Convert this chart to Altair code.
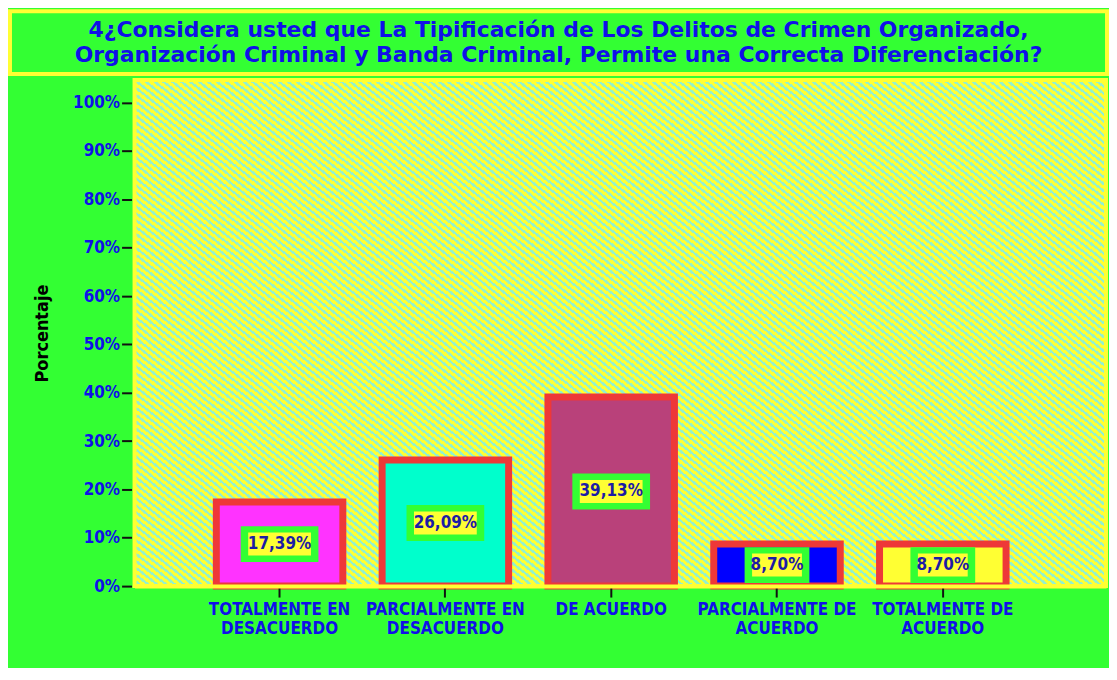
import altair as alt
import pandas as pd

# ---------------- data ----------------
categories = [
    "TOTALMENTE EN DESACUERDO",
    "PARCIALMENTE EN DESACUERDO",
    "DE ACUERDO",
    "PARCIALMENTE DE ACUERDO",
    "TOTALMENTE DE ACUERDO",
]
percentages = [17.39, 26.09, 39.13, 8.70, 8.70]
y_tick_values = [0, 10, 20, 30, 40, 50, 60, 70, 80, 90, 100]
title_lines = [
    "4¿Considera usted que La Tipificación de Los Delitos de Crimen Organizado,",
    "Organización Criminal y Banda Criminal, Permite una Correcta Diferenciación?",
]
y_title = "Porcentaje"

# ---------------- style ----------------
GREEN = "#33ff33"
YELLOW = "#ffff33"
AQUA = "#96f2c8"
RED = "#ee3838"
BLUE = "#1010e8"
NAVY = "#1c1ca6"
bar_colors = ["#ff33ff", "#00ffcc", "#b9417a", "#0000ff", "#ffff33"]
COND = "DejaVu Sans Condensed"

# diagonal hatch for the plot background, as a striped linear gradient
N_STRIPES = 182
stops = []
for k in range(N_STRIPES):
    a = round(k / N_STRIPES, 6)
    m = round((k + 0.55) / N_STRIPES, 6)
    b = round((k + 1) / N_STRIPES, 6)
    stops += [
        alt.GradientStop(offset=a, color=YELLOW),
        alt.GradientStop(offset=m, color=YELLOW),
        alt.GradientStop(offset=m, color=AQUA),
        alt.GradientStop(offset=b, color=AQUA),
    ]
hatch = alt.LinearGradient(gradient="linear", stops=stops, x1=0, y1=1, x2=1.154, y2=0.231)

df = pd.DataFrame({"cat": categories, "pct": percentages})

x_axis = alt.Axis(
    labelExpr="length(datum.label) > 12 ? [slice(datum.label, 0, lastindexof(datum.label, ' ')), slice(datum.label, lastindexof(datum.label, ' ') + 1)] : datum.label",
    labelFont=COND, labelFontWeight="bold", labelFontSize=17, labelColor=BLUE,
    labelLineHeight=19, labelAngle=0, labelPadding=5, labelBaseline="top", labelLimit=400,
    tickColor="#111111", tickWidth=2, tickSize=11,
    domainColor=YELLOW, domainWidth=4, zindex=1,
)
x_enc = alt.X(
    "cat:N", sort=categories, title=None, axis=x_axis,
    scale=alt.Scale(paddingInner=0.237, paddingOuter=0.548, align=0.45),
)

y_axis = alt.Axis(
    values=y_tick_values, labelExpr="datum.value + '%'",
    labelFont=COND, labelFontWeight="bold", labelFontSize=17, labelColor=BLUE,
    labelPadding=2, tickColor="#111111", tickWidth=2, tickSize=10, offset=3,
    domain=False, grid=False,
    titleFont=COND, titleFontWeight="bold", titleFontSize=18, titleColor="black",
    titleX=-80, titleY=254, titleAngle=270, titleBaseline="bottom", titleAlign="center",
)
y_scale = alt.Scale(domain=[0, 104.7], nice=False, zero=True)


def yenc(field):
    return alt.Y(field, title=y_title, scale=y_scale, axis=y_axis)


background = alt.Chart(pd.DataFrame({"t": [0]})).mark_rect(
    fill=hatch, stroke=YELLOW, strokeWidth=4
).encode(x=alt.value(0), x2=alt.value("width"), y=alt.value(0), y2=alt.value("height"))

base = alt.Chart(df).encode(x=x_enc)

bars = base.mark_bar(stroke=RED, strokeWidth=7).encode(
    y=yenc("pct:Q"),
    color=alt.Color("cat:N", scale=alt.Scale(domain=categories, range=bar_colors), legend=None),
)

lbl = base.transform_calculate(
    mid="datum.pct / 2",
    txt="replace(format(datum.pct, '.2f'), '.', ',') + '%'",
).transform_calculate(
    hw="length(datum.txt) * 6.5",
).transform_calculate(
    outer="'M' + (-datum.hw) + ',-18H' + datum.hw + 'V18H' + (-datum.hw) + 'Z'",
    inner="'M' + (7.5 - datum.hw) + ',-11.5H' + (datum.hw - 7.5) + 'V11.5H' + (7.5 - datum.hw) + 'Z'",
)

green_box = lbl.mark_point(filled=True, color=GREEN, opacity=1, size=4, strokeWidth=0).encode(
    y=yenc("mid:Q"), shape=alt.Shape("outer:N", scale=None)
)
yellow_box = lbl.mark_point(filled=True, color=YELLOW, opacity=1, size=4, strokeWidth=0).encode(
    y=yenc("mid:Q"), shape=alt.Shape("inner:N", scale=None)
)
texts = lbl.mark_text(font=COND, fontWeight="bold", fontSize=17, color=NAVY, baseline="middle").encode(
    y=yenc("mid:Q"), text="txt:N"
)

main = alt.layer(background, bars, green_box, yellow_box, texts).properties(
    width=975, height=508,
)

title_chart = alt.Chart(pd.DataFrame({"t": [0]})).mark_text(
    font="DejaVu Sans", fontWeight="bold", fontSize=22, color=BLUE,
    lineHeight=26, baseline="middle", align="center", dy=-13,
).encode(text=alt.value(title_lines)).properties(
    width=1101, height=63,
    view=alt.ViewBackground(fill=GREEN, stroke=YELLOW, strokeWidth=4),
)

spacer = alt.Chart(pd.DataFrame({"t": [0]})).mark_text(text="").encode(
    x=alt.value(0)
).properties(width=1, height=1)

row = alt.hconcat(spacer, main, spacing=23)

chart = alt.vconcat(title_chart, row, spacing=-2).properties(
    background=GREEN,
    padding={"left": 0, "top": 0, "right": 0, "bottom": 30},
).configure_view(strokeWidth=0)

chart.save("out.html", embed_options={"renderer": "svg", "actions": False})
